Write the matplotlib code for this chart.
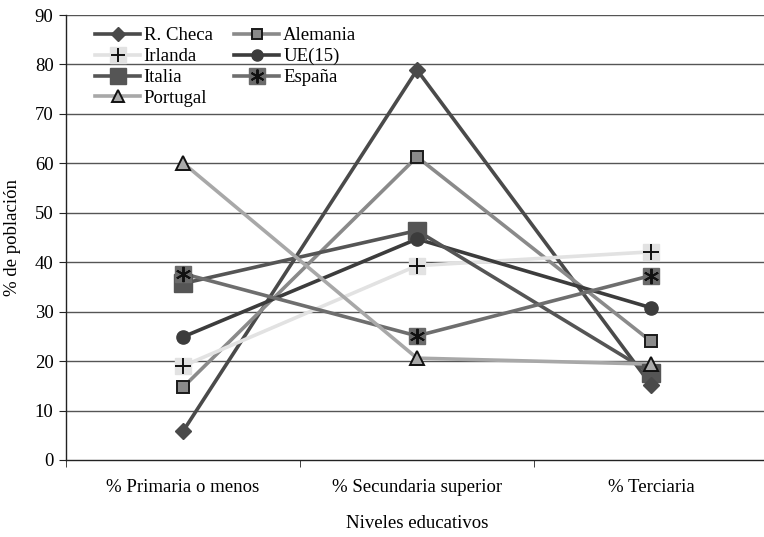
import matplotlib
matplotlib.use("Agg")
import matplotlib.pyplot as plt
from matplotlib.lines import Line2D

categories = ["% Primaria o menos", "% Secundaria superior", "% Terciaria"]
r_checa = [5.8, 78.9, 15.2]
alemania = [14.7, 61.3, 24.0]
irlanda = [19.0, 39.3, 42.1]
ue15 = [24.9, 44.7, 30.8]
italia = [35.7, 46.4, 17.6]
espana = [37.7, 25.1, 37.3]
portugal = [60.1, 20.6, 19.4]
yticks = list(range(0, 100, 10))

FS = 13.5
plt.rcParams['font.family'] = ['Liberation Serif', 'DejaVu Serif']
fig = plt.figure(figsize=(7.64, 5.37), dpi=100)
ax = fig.add_axes([66/764, 1-460/537, 702/764, 445/537])
x = list(range(len(categories)))

def series(vals, color, lw=2.6, zorder=3):
    ax.plot(x, vals, color=color, lw=lw, zorder=zorder, solid_capstyle='round')

# R. Checa
series(r_checa, '#4a4a4a')
ax.plot(x, r_checa, ls='none', marker='D', ms=8, mfc='#4a4a4a', mec='#4a4a4a', zorder=6)
# Alemania
series(alemania, '#8a8a8a')
ax.plot(x, alemania, ls='none', marker='s', ms=8.5, mfc='#8a8a8a', mec='#1a1a1a', mew=1.4, zorder=6)
# Irlanda
series(irlanda, '#e2e2e2')
ax.plot(x, irlanda, ls='none', marker='s', ms=12, mfc='#e2e2e2', mec='#e2e2e2', zorder=6)
ax.plot(x, irlanda, ls='none', marker='+', ms=11, mec='#111111', mew=1.4, zorder=7)
# UE(15)
series(ue15, '#3c3c3c')
ax.plot(x, ue15, ls='none', marker='o', ms=9.5, mfc='#3c3c3c', mec='#3c3c3c', zorder=6)
# Italia
series(italia, '#555555')
ax.plot(x, italia, ls='none', marker='s', ms=13, mfc='#555555', mec='#555555', zorder=5)
# España
series(espana, '#6e6e6e')
ax.plot(x, espana, ls='none', marker='s', ms=12, mfc='#6a6a6a', mec='#6a6a6a', zorder=6)
ax.plot(x, espana, ls='none', marker=(6, 2, 0), ms=11, mec='#111111', mew=1.4, zorder=7)
# Portugal
series(portugal, '#a8a8a8')
ax.plot(x, portugal, ls='none', marker='^', ms=10, mfc='#aaaaaa', mec='#111111', mew=1.4, zorder=6)

ax.set_xlim(-0.5, 2.5)
ax.set_ylim(0, 90)
ax.set_yticks(yticks)
ax.set_yticklabels([str(v) for v in yticks], fontsize=FS)
ax.set_xticks(x)
ax.set_xticklabels(categories, fontsize=FS)
ax.set_xticks([-0.5, 0.5, 1.5, 2.5], minor=True)
ax.tick_params(axis='x', which='major', length=0, pad=14)
ax.tick_params(axis='x', which='minor', length=5, direction='out', color='#222222')
ax.tick_params(axis='y', length=5, direction='out', color='#222222', pad=4)
for yv in yticks[1:]:
    ax.axhline(yv, color='#555555', lw=1.0, zorder=1)
for s in ['top', 'right']:
    ax.spines[s].set_visible(False)
for s in ['left', 'bottom']:
    ax.spines[s].set_color('#222222')
    ax.spines[s].set_linewidth(1.0)

ax.set_ylabel('% de población', fontsize=FS, labelpad=10)
fig.text(417/764, 1-524/537, 'Niveles educativos', fontsize=FS, ha='center', va='center')

h_checa = Line2D([], [], color='#4a4a4a', lw=2.6, marker='D', ms=7, mfc='#4a4a4a', mec='#4a4a4a')
h_alem = Line2D([], [], color='#8a8a8a', lw=2.6, marker='s', ms=7, mfc='#8a8a8a', mec='#1a1a1a', mew=1.4)
h_irl = (Line2D([], [], color='#e2e2e2', lw=2.6, marker='s', ms=11, mfc='#e2e2e2', mec='#e2e2e2'),
         Line2D([], [], ls='none', marker='+', ms=10, mec='#111111', mew=1.4))
h_ue = Line2D([], [], color='#3c3c3c', lw=2.6, marker='o', ms=8, mfc='#3c3c3c', mec='#3c3c3c')
h_ita = Line2D([], [], color='#555555', lw=2.6, marker='s', ms=12, mfc='#555555', mec='#555555')
h_esp = (Line2D([], [], color='#6e6e6e', lw=2.6, marker='s', ms=11, mfc='#6a6a6a', mec='#6a6a6a'),
         Line2D([], [], ls='none', marker=(6, 2, 0), ms=10, mec='#111111', mew=1.4))
h_por = Line2D([], [], color='#a8a8a8', lw=2.6, marker='^', ms=8, mfc='#aaaaaa', mec='#111111', mew=1.4)

handles = [h_checa, h_irl, h_ita, h_por, h_alem, h_ue, h_esp]
labels = ['R. Checa', 'Irlanda', 'Italia', 'Portugal', 'Alemania', 'UE(15)', 'España']
ax.legend(handles, labels, ncol=2, loc='upper left', bbox_to_anchor=(0.024, 1.0),
          frameon=False, fontsize=FS, handlelength=2.4, handletextpad=0.2,
          labelspacing=0.2, columnspacing=1.15, borderaxespad=0.25)

fig.savefig('out.png', dpi=100)
